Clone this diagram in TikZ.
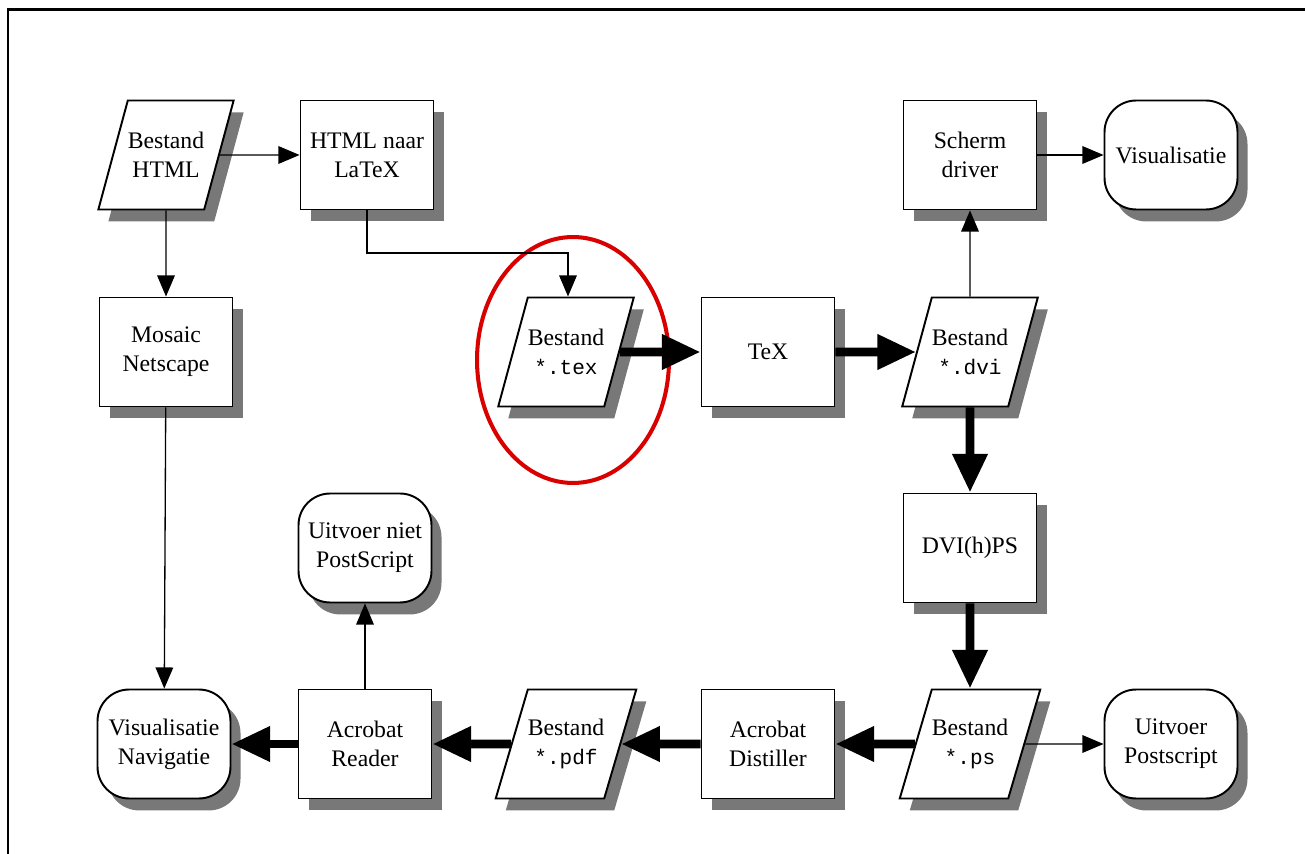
\documentclass[tikz,border=0pt]{standalone}
\usepackage{fontspec}
\setmainfont{Liberation Serif}
\setmonofont{Liberation Mono}
\usetikzlibrary{positioning,shapes.geometric,shadows,arrows.meta}

\newcommand{\fname}[1]{{\ttfamily\fontsize{12}{16.5}\selectfont #1}}

\begin{document}
\begin{tikzpicture}
  [
    x=0.02cm, y=-0.02cm,
    box/.style     = {draw, fill = white, line width = 1.1pt,
                      minimum width = 2.66cm, minimum height = 2.18cm,
                      align = center, font = \fontsize{13.5}{16.5}\selectfont,
                      drop shadow = {shadow xshift = 5.7pt, shadow yshift = -6.8pt,
                                     fill = black!53, opacity = 1}},
    file/.style    = {box, trapezium, trapezium left angle = 59,
                      trapezium right angle = 121, trapezium stretches body,
                      minimum width = 2.50cm, inner xsep = 0pt, inner ysep = 1pt},
    term/.style    = {box, rounded corners = 18pt},
    flow/.style    = {line width = .75pt, -{Triangle[length = 12pt, width = 10pt]}},
    bigflow/.style = {line width = 5pt, -{Triangle[length = 22pt, width = 19pt]}},
  ]

  % page size and the frame
  \useasboundingbox (0,0) rectangle (1305,854);
  \draw[line width = 1.7pt] (8,854) -- (8,10) -- (1305,10);

  % first row
  \node (html)    at (166,155)  [file] {Bestand\\HTML};
  \node (h2l)     at (367,155)  [box]  {HTML naar\\LaTeX};
  \node (scherm)  at (970,155)  [box]  {Scherm\\driver};
  \node (vis)     at (1171,155) [term] {Visualisatie};

  % second row
  \node (mosaic)  at (166,352)  [box]  {Mosaic\\Netscape};
  \node (tex)     at (566,352)  [file] {Bestand\\\fname{*.tex}};
  \node (texrun)  at (768,352)  [box]  {TeX};
  \node (dvi)     at (970,352)  [file] {Bestand\\\fname{*.dvi}};

  % third row
  \node (uitniet) at (365,548)  [term] {Uitvoer niet\\PostScript};
  \node (dvips)   at (970,548)  [box]  {DVI(h)PS};

  % last row
  \node (visnav)    at (164,744)  [term] {Visualisatie\\Navigatie};
  \node (reader)    at (365,744)  [box]  {Acrobat\\Reader};
  \node (pdf)       at (566,744)  [file] {Bestand\\\fname{*.pdf}};
  \node (distiller) at (768,744)  [box]  {Acrobat\\Distiller};
  \node (ps)        at (970,744)  [file] {Bestand\\\fname{*.ps}};
  \node (uitps)     at (1171,744) [term] {Uitvoer\\Postscript};

  % the red ring round the source file
  \draw[color = red!85!black, line width = 2.3pt]
    (573,360) ellipse [x radius = 1.92cm, y radius = 2.46cm];

  % main chain: heavy arrows
  \foreach \from/\to in {tex/texrun, texrun/dvi, dvi/dvips, dvips/ps,
                         ps/distiller, distiller/pdf, pdf/reader, reader/visnav}
    \draw[bigflow] (\from) -- (\to);

  % side branches: thin arrows
  \foreach \from/\to in {html/h2l, html/mosaic, mosaic/visnav, dvi/scherm,
                         scherm/vis, ps/uitps, reader/uitniet}
    \draw[flow] (\from) -- (\to);

  % converter output goes round to the source file
  \coordinate (bend) at (568,253);
  \draw[flow] (h2l.south) |- (bend) -- (bend |- tex.north);
\end{tikzpicture}
\end{document}
